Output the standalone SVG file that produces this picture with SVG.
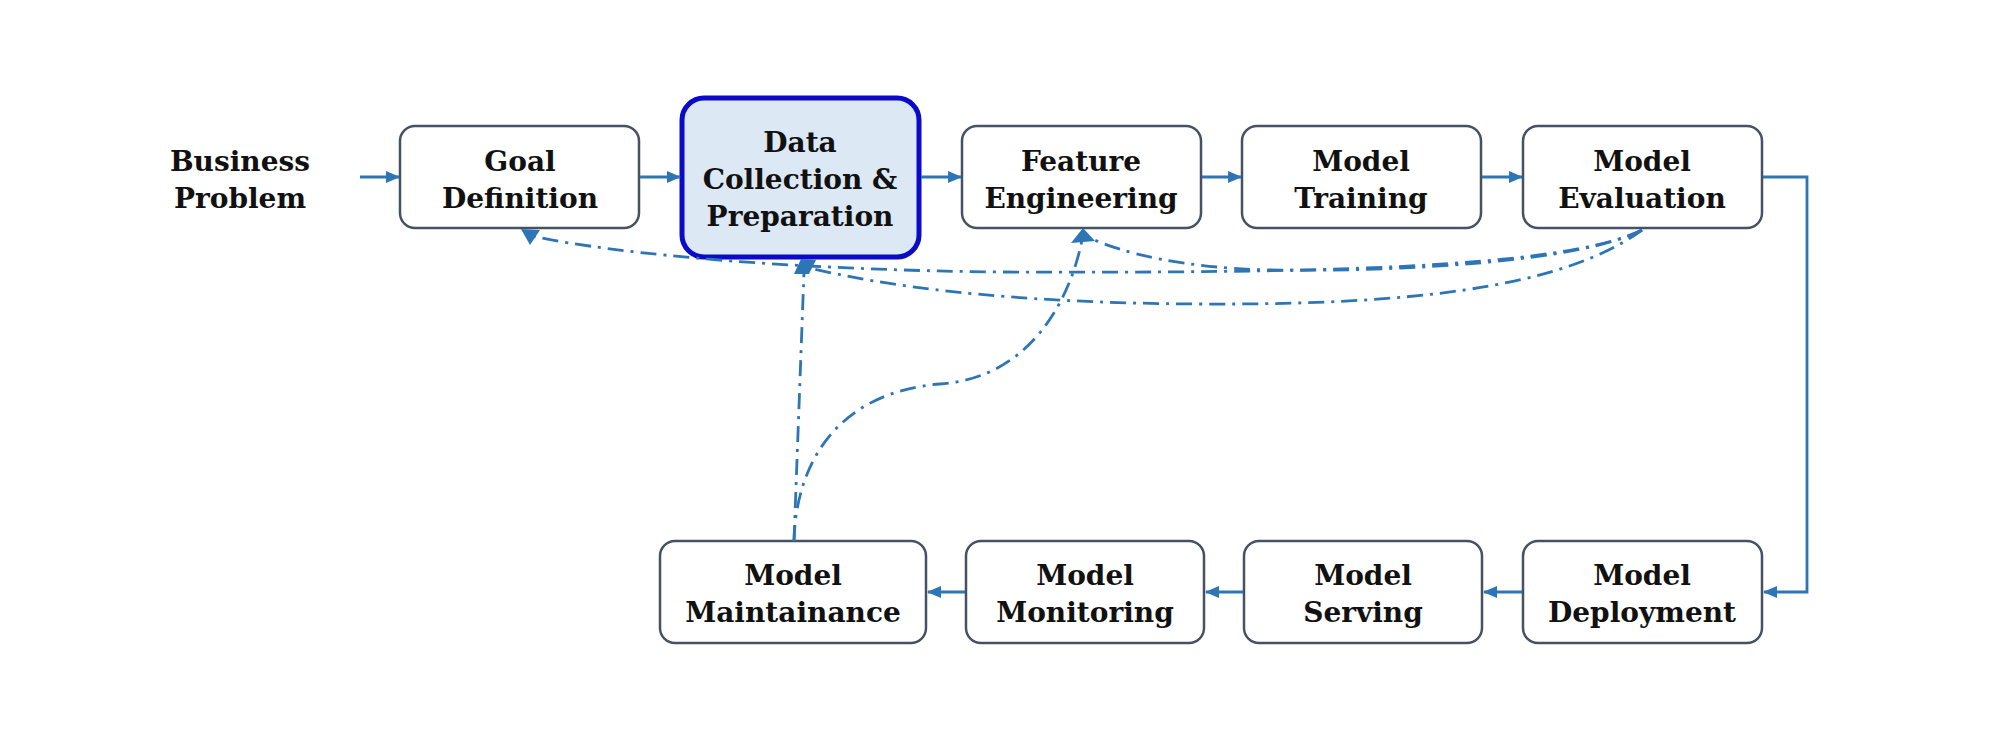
<svg xmlns="http://www.w3.org/2000/svg" width="2000" height="747" viewBox="0 0 2000 747">
  <defs>
    <marker id="arr" markerWidth="14" markerHeight="14" refX="13" refY="7" orient="auto" markerUnits="userSpaceOnUse">
      <path d="M0,1 L14,7 L0,13 Z" fill="#2e75b6"/>
    </marker>
    <style>
      .box { fill: #ffffff; stroke: #465263; stroke-width: 2.5; }
      .hl { fill: #dde8f5; stroke: #0a0ac8; stroke-width: 5; }
      .lbl { font-family: "DejaVu Serif", "Liberation Serif", serif; font-weight: bold; font-size: 28px; fill: #111111; text-anchor: middle; }
      .flow { fill: none; stroke: #2e75b6; stroke-width: 2.8; }
      .fb { fill: none; stroke: #2e75b6; stroke-width: 2.8; stroke-dasharray: 16 7 3 7; }
      .head { fill: #2e75b6; }
    </style>
  </defs>
  <rect width="2000" height="747" fill="#ffffff"/>

  <g id="business-problem">
    <text class="lbl" x="240" y="171">Business</text>
    <text class="lbl" x="240" y="208">Problem</text>
  </g>

  <g id="goal-definition">
    <rect class="box" x="400" y="126" width="239" height="102" rx="15"/>
    <text class="lbl" x="520" y="171">Goal</text>
    <text class="lbl" x="520" y="208">Definition</text>
  </g>

  <g id="data-collection">
    <rect class="hl" x="682" y="98" width="237" height="159" rx="22"/>
    <text class="lbl" x="800" y="152">Data</text>
    <text class="lbl" x="800" y="189">Collection &amp;</text>
    <text class="lbl" x="800" y="226">Preparation</text>
  </g>

  <g id="feature-engineering">
    <rect class="box" x="962" y="126" width="239" height="102" rx="15"/>
    <text class="lbl" x="1081" y="171">Feature</text>
    <text class="lbl" x="1081" y="208">Engineering</text>
  </g>

  <g id="model-training">
    <rect class="box" x="1242" y="126" width="239" height="102" rx="15"/>
    <text class="lbl" x="1361" y="171">Model</text>
    <text class="lbl" x="1361" y="208">Training</text>
  </g>

  <g id="model-evaluation">
    <rect class="box" x="1523" y="126" width="239" height="102" rx="15"/>
    <text class="lbl" x="1642" y="171">Model</text>
    <text class="lbl" x="1642" y="208">Evaluation</text>
  </g>

  <g id="model-maintainance">
    <rect class="box" x="660" y="541" width="266" height="102" rx="15"/>
    <text class="lbl" x="793" y="585">Model</text>
    <text class="lbl" x="793" y="622">Maintainance</text>
  </g>

  <g id="model-monitoring">
    <rect class="box" x="966" y="541" width="238" height="102" rx="15"/>
    <text class="lbl" x="1085" y="585">Model</text>
    <text class="lbl" x="1085" y="622">Monitoring</text>
  </g>

  <g id="model-serving">
    <rect class="box" x="1244" y="541" width="238" height="102" rx="15"/>
    <text class="lbl" x="1363" y="585">Model</text>
    <text class="lbl" x="1363" y="622">Serving</text>
  </g>

  <g id="model-deployment">
    <rect class="box" x="1523" y="541" width="239" height="102" rx="15"/>
    <text class="lbl" x="1642" y="585">Model</text>
    <text class="lbl" x="1642" y="622">Deployment</text>
  </g>

  <g id="connectors">
    <line class="flow" x1="360" y1="177" x2="399" y2="177" marker-end="url(#arr)"/>
    <line class="flow" x1="640" y1="177" x2="680" y2="177" marker-end="url(#arr)"/>
    <line class="flow" x1="921" y1="177" x2="961" y2="177" marker-end="url(#arr)"/>
    <line class="flow" x1="1202" y1="177" x2="1241" y2="177" marker-end="url(#arr)"/>
    <line class="flow" x1="1482" y1="177" x2="1522" y2="177" marker-end="url(#arr)"/>
    <polyline class="flow" points="1763,177 1807,177 1807,592 1764,592" marker-end="url(#arr)"/>
    <line class="flow" x1="1522" y1="592" x2="1484" y2="592" marker-end="url(#arr)"/>
    <line class="flow" x1="1243" y1="592" x2="1206" y2="592" marker-end="url(#arr)"/>
    <line class="flow" x1="965" y1="592" x2="928" y2="592" marker-end="url(#arr)"/>

    <path class="fb" d="M1642,230 C1560,270 1300,273 1000,272 C800,270 620,255 532,236"/>
    <path class="fb" d="M1642,230 C1560,290 1400,305 1200,304 C1000,303 880,285 810,268"/>
    <path class="fb" d="M1642,230 C1580,262 1400,272 1270,270 C1180,268 1120,252 1090,238"/>
    <path class="fb" d="M794,541 L804,272"/>
    <path class="fb" d="M794,541 C796,460 840,392 940,384 C1030,378 1070,300 1082,240"/>

    <polygon class="head" points="521,229 540,230 530,245"/>
    <polygon class="head" points="794,274 801,259 816,260 809,274"/>
    <polygon class="head" points="1071,243 1083,228 1095,241"/>
  </g>
</svg>
